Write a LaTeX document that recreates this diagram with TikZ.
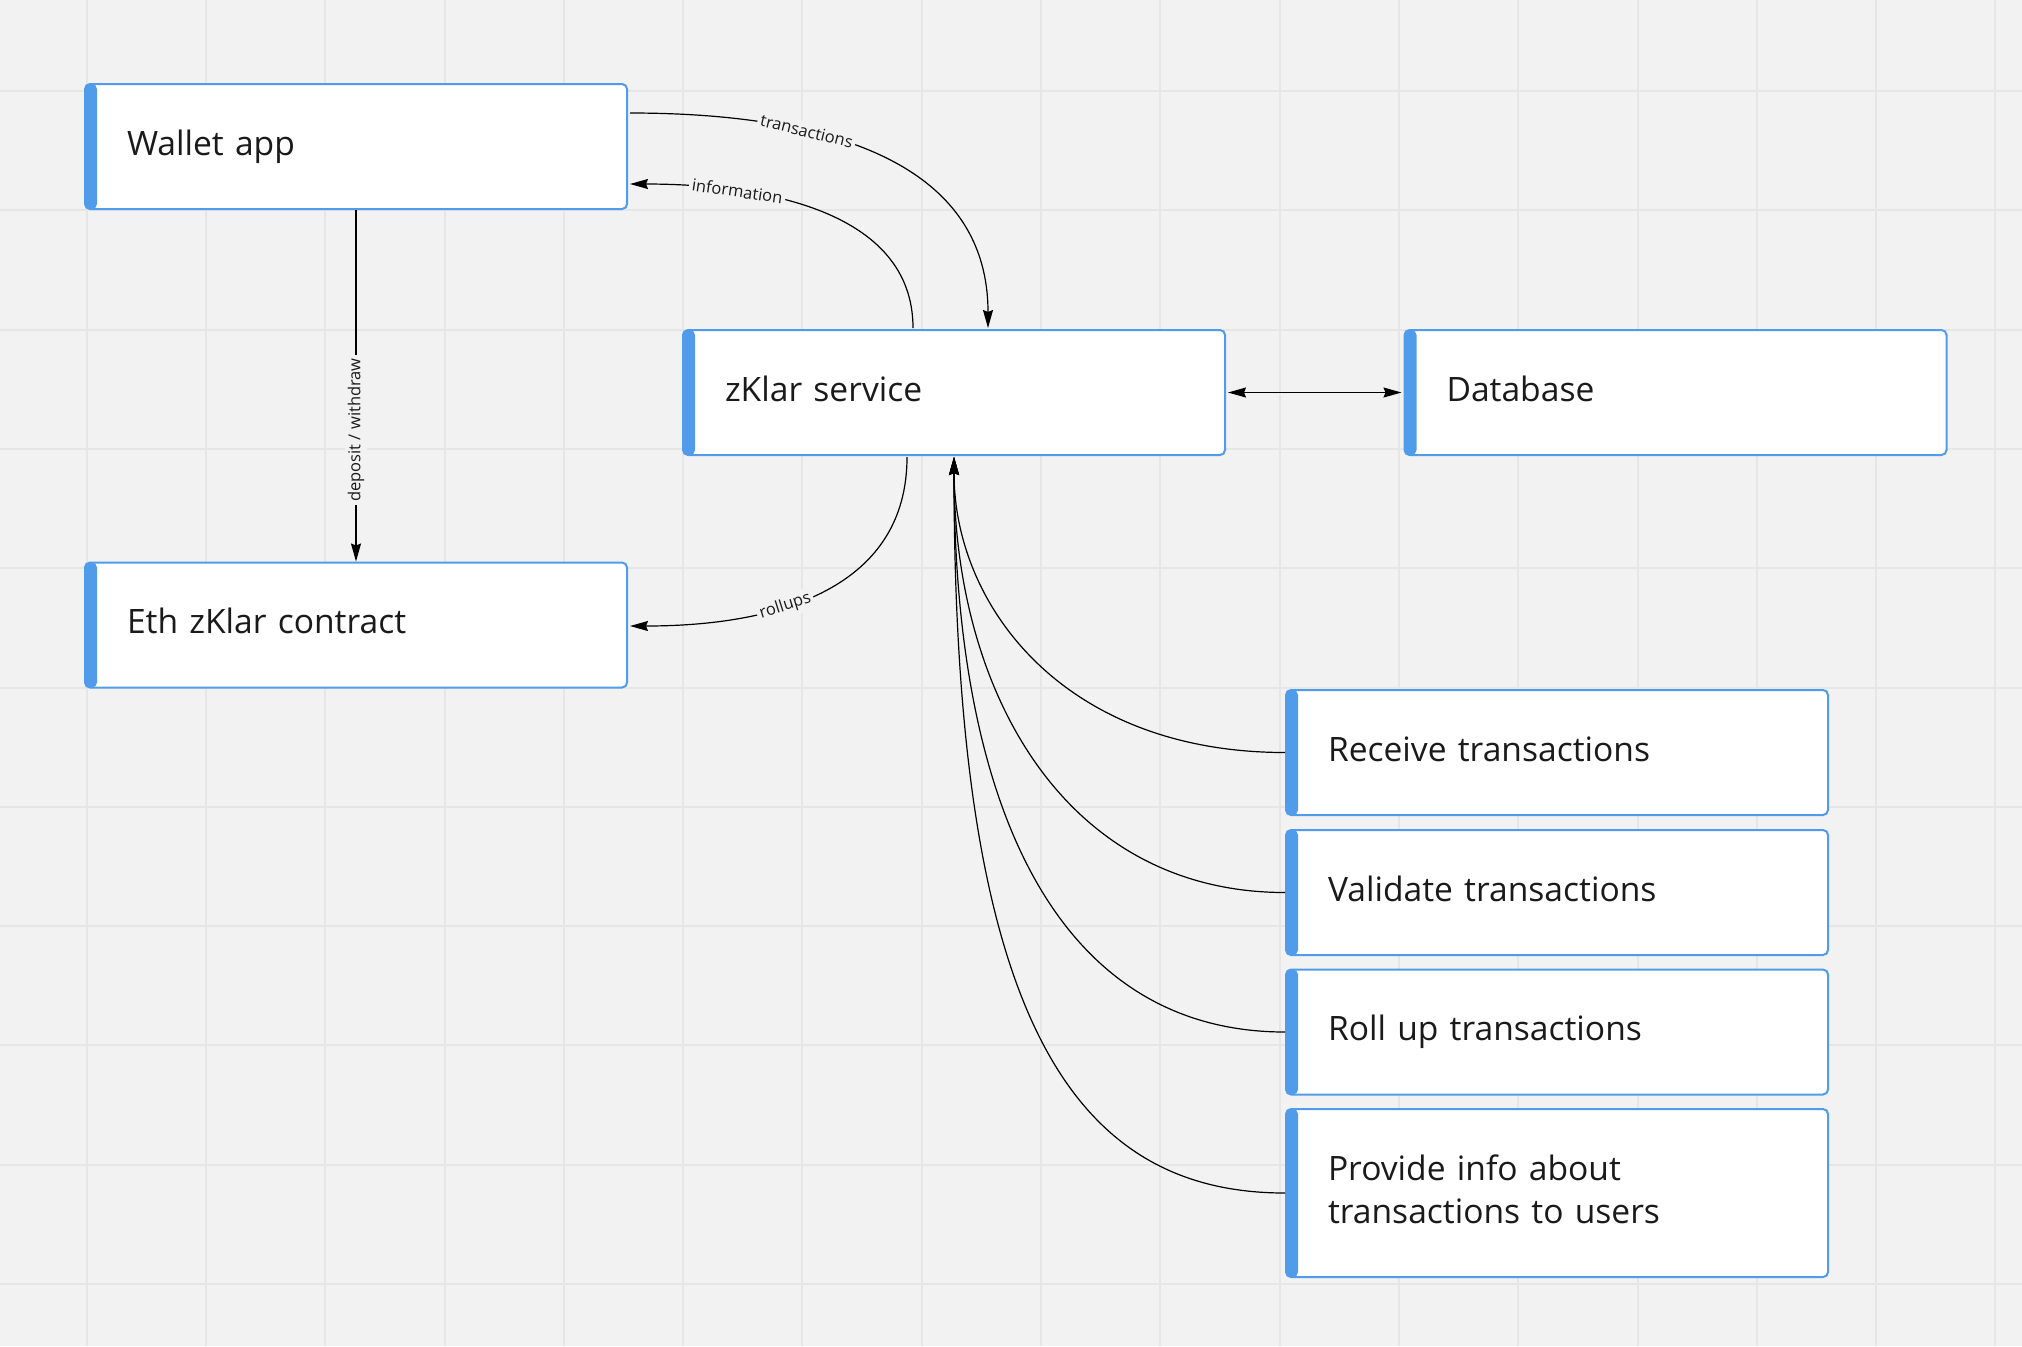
\documentclass[tikz,border=0pt]{standalone}
\usepackage{fontspec}
\setmainfont{Open Sans}
\usetikzlibrary{arrows.meta,calc}
\definecolor{bg}{HTML}{F2F2F2}
\definecolor{gridc}{HTML}{E6E6E6}
\definecolor{boxblue}{RGB}{80,156,234}
\definecolor{txt}{HTML}{1A1A1A}
\begin{document}
\begin{tikzpicture}[x=0.5pt,y=-0.5pt,
  box/.style={draw=boxblue, line width=1pt, fill=white, rounded corners=2.5pt,
    minimum width=271pt, minimum height=62.5pt, text width=229pt, inner xsep=21pt,
    align=left, font=\fontsize{16.8}{21.5}\selectfont, text=txt,
    path picture={\fill[boxblue] (path picture bounding box.north west) rectangle ([xshift=6pt]path picture bounding box.south west);}},
  onebox/.style={box, text height=12.5pt, text depth=4pt},
  lbl/.style={fill=bg, inner sep=1.5pt, font=\fontsize{8.25}{10}\selectfont, text=txt},
  conn/.style={line width=0.6pt, black},
  >={Stealth[length=9pt,width=5pt,inset=1pt]}
]
\useasboundingbox (0,0) rectangle (2022,1346);
\fill[bg] (0,0) rectangle (2022,1346);
\foreach \i in {0,...,16} \draw[gridc, line width=1pt] ({86.6+119.3*\i},0) -- ({86.6+119.3*\i},1346);
\foreach \j in {0,...,10} \draw[gridc, line width=1pt] (0,{91+119.3*\j}) -- (2022,{91+119.3*\j});

\node[onebox] (wallet) at (356,146.5) {Wallet app};
\node[onebox] (eth) at (356,625) {Eth zKlar contract};
\node[onebox] (zk) at (954,392.5) {zKlar service};
\node[onebox] (db) at (1675.5,392.5) {Database};
\node[onebox] (rec) at (1557,752.5) {Receive transactions};
\node[onebox] (val) at (1557,892.5) {Validate transactions};
\node[onebox] (rol) at (1557,1032) {Roll up transactions};
\node[box, minimum height=84pt] (pro) at (1557,1193) {Provide info about\\transactions to users\rule[-4pt]{0pt}{4pt}};

\draw[conn,->] ($(wallet.north east)+(2,30)$) .. controls +(171,0) and +(0,-178) .. ($(zk.north)+(34,-1)$)
  node[lbl,pos=0.35,sloped] (lt) {transactions};
\draw[conn,->] ($(zk.north)+(-41,-1)$) .. controls +(0,-118) and +(131,0) .. ($(wallet.east)+(2,37.5)$)
  node[lbl,pos=0.73,sloped] (li) {information};
\draw[conn,->] (wallet.south) -- (eth.north)
  node[lbl,pos=0.626,rotate=90] (ld) {deposit / withdraw};
\draw[conn,->] ($(zk.south)+(-47,1)$) .. controls +(0,130) and +(150,0) .. ($(eth.east)+(2,1)$)
  node[lbl,pos=0.62,sloped] (lr) {rollups};
\draw[conn,<->] ($(zk.east)+(2,0)$) -- ($(db.west)+(-2,0)$);

\draw[conn,->] (rec.west) .. controls +(-220,0) and +(0,150) .. ($(zk.south)+(0,1)$);
\draw[conn,->] (val.west) .. controls +(-220,0) and +(0,235) .. ($(zk.south)+(0,1)$);
\draw[conn,->] (rol.west) .. controls +(-220,0) and +(0,364) .. ($(zk.south)+(0,1)$);
\draw[conn,->] (pro.west) .. controls +(-220,0) and +(0,547) .. ($(zk.south)+(0,1)$);
\end{tikzpicture}
\end{document}
